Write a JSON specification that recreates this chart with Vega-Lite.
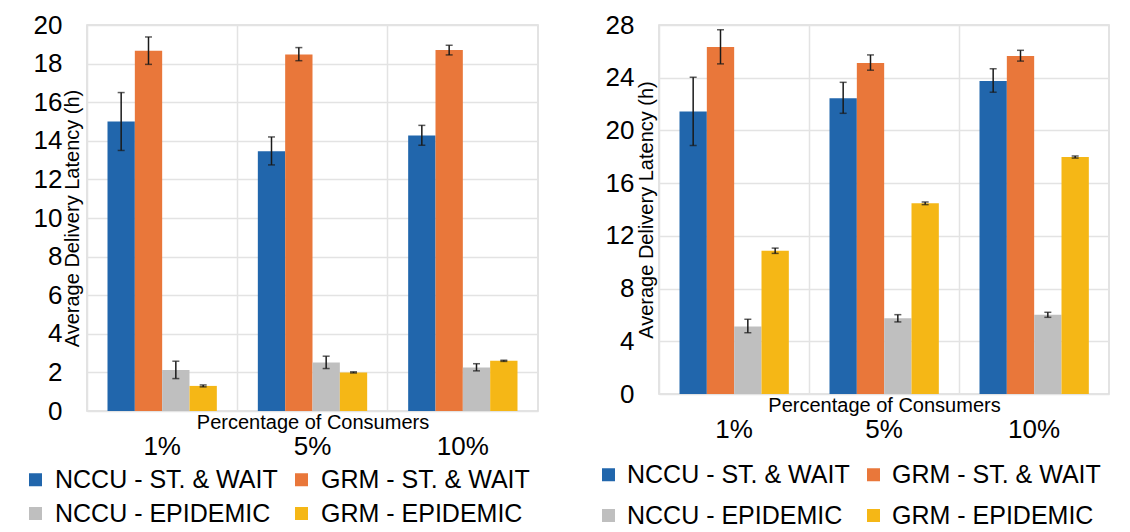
{
  "$schema": "https://vega.github.io/schema/vega-lite/v6.json",
  "padding": {"left": 22, "top": 11, "right": 5, "bottom": 0},
  "spacing": 56,
  "background": "white",
  "datasets": {
    "a": [
      {"pct": "1%", "series": "NCCU - ST. & WAIT", "value": 15.0, "lo": 13.5, "hi": 16.5},
      {"pct": "1%", "series": "GRM - ST. & WAIT", "value": 18.67, "lo": 17.96, "hi": 19.38},
      {"pct": "1%", "series": "NCCU - EPIDEMIC", "value": 2.13, "lo": 1.68, "hi": 2.58},
      {"pct": "1%", "series": "GRM - EPIDEMIC", "value": 1.3, "lo": 1.25, "hi": 1.35},
      {"pct": "5%", "series": "NCCU - ST. & WAIT", "value": 13.46, "lo": 12.75, "hi": 14.2},
      {"pct": "5%", "series": "GRM - ST. & WAIT", "value": 18.47, "lo": 18.15, "hi": 18.83},
      {"pct": "5%", "series": "NCCU - EPIDEMIC", "value": 2.51, "lo": 2.2, "hi": 2.84},
      {"pct": "5%", "series": "GRM - EPIDEMIC", "value": 2.0, "lo": 1.97, "hi": 2.03},
      {"pct": "10%", "series": "NCCU - ST. & WAIT", "value": 14.27, "lo": 13.77, "hi": 14.8},
      {"pct": "10%", "series": "GRM - ST. & WAIT", "value": 18.7, "lo": 18.45, "hi": 18.95},
      {"pct": "10%", "series": "NCCU - EPIDEMIC", "value": 2.26, "lo": 2.08, "hi": 2.45},
      {"pct": "10%", "series": "GRM - EPIDEMIC", "value": 2.6, "lo": 2.57, "hi": 2.63}
    ],
    "b": [
      {"pct": "1%", "series": "NCCU - ST. & WAIT", "value": 21.43, "lo": 18.85, "hi": 24.03},
      {"pct": "1%", "series": "GRM - ST. & WAIT", "value": 26.33, "lo": 25.05, "hi": 27.64},
      {"pct": "1%", "series": "NCCU - EPIDEMIC", "value": 5.13, "lo": 4.65, "hi": 5.67},
      {"pct": "1%", "series": "GRM - EPIDEMIC", "value": 10.87, "lo": 10.67, "hi": 11.07},
      {"pct": "5%", "series": "NCCU - ST. & WAIT", "value": 22.44, "lo": 21.3, "hi": 23.65},
      {"pct": "5%", "series": "GRM - ST. & WAIT", "value": 25.12, "lo": 24.57, "hi": 25.73},
      {"pct": "5%", "series": "NCCU - EPIDEMIC", "value": 5.75, "lo": 5.47, "hi": 6.02},
      {"pct": "5%", "series": "GRM - EPIDEMIC", "value": 14.47, "lo": 14.37, "hi": 14.57},
      {"pct": "10%", "series": "NCCU - ST. & WAIT", "value": 23.76, "lo": 22.9, "hi": 24.68},
      {"pct": "10%", "series": "GRM - ST. & WAIT", "value": 25.65, "lo": 25.26, "hi": 26.08},
      {"pct": "10%", "series": "NCCU - EPIDEMIC", "value": 6.02, "lo": 5.82, "hi": 6.2},
      {"pct": "10%", "series": "GRM - EPIDEMIC", "value": 17.98, "lo": 17.9, "hi": 18.06}
    ]
  },
  "resolve": {"scale": {"color": "independent", "y": "independent"}, "legend": {"color": "independent"}},
  "hconcat": [
    {
      "width": 451,
      "height": 386,
      "data": {"name": "a"},
      "encoding": {
        "x": {
          "field": "pct", "type": "nominal", "sort": ["1%", "5%", "10%"],
          "scale": {"paddingInner": 0, "paddingOuter": 0},
          "axis": {
            "title": "Percentage of Consumers", "titleFont": "Liberation Sans", "titleFontSize": 20, "titleFontWeight": "normal", "titleColor": "#000",
            "titleY": 11, "titleBaseline": "middle",
            "labelFont": "Liberation Sans", "labelFontSize": 26, "labelColor": "#000", "labelAngle": 0, "labelPadding": 22,
            "ticks": false, "tickSize": 0, "domain": false, "grid": true, "bandPosition": 0, "gridColor": "#e3e3e3", "gridWidth": 1.5
          }
        },
        "xOffset": {
          "field": "series", "type": "nominal",
          "sort": ["NCCU - ST. & WAIT", "GRM - ST. & WAIT", "NCCU - EPIDEMIC", "GRM - EPIDEMIC"],
          "scale": {"paddingInner": 0, "paddingOuter": 0.75}
        },
        "y": {
          "field": "value", "type": "quantitative",
          "scale": {"domain": [0, 20], "nice": false},
          "axis": {
            "title": "Average Delivery Latency (h)", "titleFont": "Liberation Sans", "titleFontSize": 20, "titleFontWeight": "normal", "titleColor": "#000",
            "titleX": -5,
            "values": [0, 2, 4, 6, 8, 10, 12, 14, 16, 18, 20],
            "labelOverlap": false, "labelSeparation": -14,
            "labelFont": "Liberation Sans", "labelFontSize": 26, "labelColor": "#000", "labelPadding": 25,
            "ticks": false, "tickSize": 0, "domain": false, "grid": true, "gridColor": "#e3e3e3", "gridWidth": 1.5
          }
        }
      },
      "layer": [
        {
          "mark": {"type": "bar"},
          "encoding": {
            "color": {
              "field": "series", "type": "nominal",
              "scale": {
                "domain": ["NCCU - ST. & WAIT", "GRM - ST. & WAIT", "NCCU - EPIDEMIC", "GRM - EPIDEMIC"],
                "range": ["#2166ac", "#e9773a", "#bfbfbf", "#f5b716"]
              },
              "legend": {
                "title": null, "orient": "none", "direction": "horizontal", "legendX": -64, "legendY": 442, "columns": 2,
                "symbolType": "square", "symbolSize": 169, "symbolStrokeWidth": 0,
                "labelFont": "Liberation Sans", "labelFontSize": 25, "labelColor": "#000", "labelLimit": 400, "labelOffset": 7,
                "columnPadding": 11, "rowPadding": 8, "padding": 0
              }
            }
          }
        },
        {
          "mark": {"type": "rule", "color": "#1a1a1a", "strokeWidth": 1.5},
          "encoding": {
            "y": {"field": "lo", "type": "quantitative"},
            "y2": {"field": "hi"}
          }
        },
        {
          "mark": {"type": "tick", "color": "#1a1a1a", "thickness": 1.5, "size": 7},
          "encoding": {"y": {"field": "lo", "type": "quantitative"}}
        },
        {
          "mark": {"type": "tick", "color": "#1a1a1a", "thickness": 1.5, "size": 7},
          "encoding": {"y": {"field": "hi", "type": "quantitative"}}
        }
      ]
    },
    {
      "width": 450,
      "height": 369,
      "data": {"name": "b"},
      "encoding": {
        "x": {
          "field": "pct", "type": "nominal", "sort": ["1%", "5%", "10%"],
          "scale": {"paddingInner": 0, "paddingOuter": 0},
          "axis": {
            "title": "Percentage of Consumers", "titleFont": "Liberation Sans", "titleFontSize": 20, "titleFontWeight": "normal", "titleColor": "#000",
            "titleY": 11, "titleBaseline": "middle",
            "labelFont": "Liberation Sans", "labelFontSize": 26, "labelColor": "#000", "labelAngle": 0, "labelPadding": 22,
            "ticks": false, "tickSize": 0, "domain": false, "grid": true, "bandPosition": 0, "gridColor": "#e3e3e3", "gridWidth": 1.5
          }
        },
        "xOffset": {
          "field": "series", "type": "nominal",
          "sort": ["NCCU - ST. & WAIT", "GRM - ST. & WAIT", "NCCU - EPIDEMIC", "GRM - EPIDEMIC"],
          "scale": {"paddingInner": 0, "paddingOuter": 0.75}
        },
        "y": {
          "field": "value", "type": "quantitative",
          "scale": {"domain": [0, 28], "nice": false},
          "axis": {
            "title": "Average Delivery Latency (h)", "titleFont": "Liberation Sans", "titleFontSize": 20, "titleFontWeight": "normal", "titleColor": "#000",
            "titleX": -3,
            "values": [0, 4, 8, 12, 16, 20, 24, 28],
            "labelOverlap": false, "labelSeparation": -14,
            "labelFont": "Liberation Sans", "labelFontSize": 26, "labelColor": "#000", "labelPadding": 25,
            "ticks": false, "tickSize": 0, "domain": false, "grid": true, "gridColor": "#e3e3e3", "gridWidth": 1.5
          }
        }
      },
      "layer": [
        {
          "mark": {"type": "bar"},
          "encoding": {
            "color": {
              "field": "series", "type": "nominal",
              "scale": {
                "domain": ["NCCU - ST. & WAIT", "GRM - ST. & WAIT", "NCCU - EPIDEMIC", "GRM - EPIDEMIC"],
                "range": ["#2166ac", "#e9773a", "#bfbfbf", "#f5b716"]
              },
              "legend": {
                "title": null, "orient": "none", "direction": "horizontal", "legendX": -63, "legendY": 437, "columns": 2,
                "symbolType": "square", "symbolSize": 169, "symbolStrokeWidth": 0,
                "labelFont": "Liberation Sans", "labelFontSize": 25, "labelColor": "#000", "labelLimit": 400, "labelOffset": 6,
                "columnPadding": 11, "rowPadding": 15, "padding": 0
              }
            }
          }
        },
        {
          "mark": {"type": "rule", "color": "#1a1a1a", "strokeWidth": 1.5},
          "encoding": {
            "y": {"field": "lo", "type": "quantitative"},
            "y2": {"field": "hi"}
          }
        },
        {
          "mark": {"type": "tick", "color": "#1a1a1a", "thickness": 1.5, "size": 7},
          "encoding": {"y": {"field": "lo", "type": "quantitative"}}
        },
        {
          "mark": {"type": "tick", "color": "#1a1a1a", "thickness": 1.5, "size": 7},
          "encoding": {"y": {"field": "hi", "type": "quantitative"}}
        }
      ]
    }
  ],
  "config": {
    "view": {"stroke": "#dadada", "strokeWidth": 1.5},
    "font": "Liberation Sans"
  }
}
